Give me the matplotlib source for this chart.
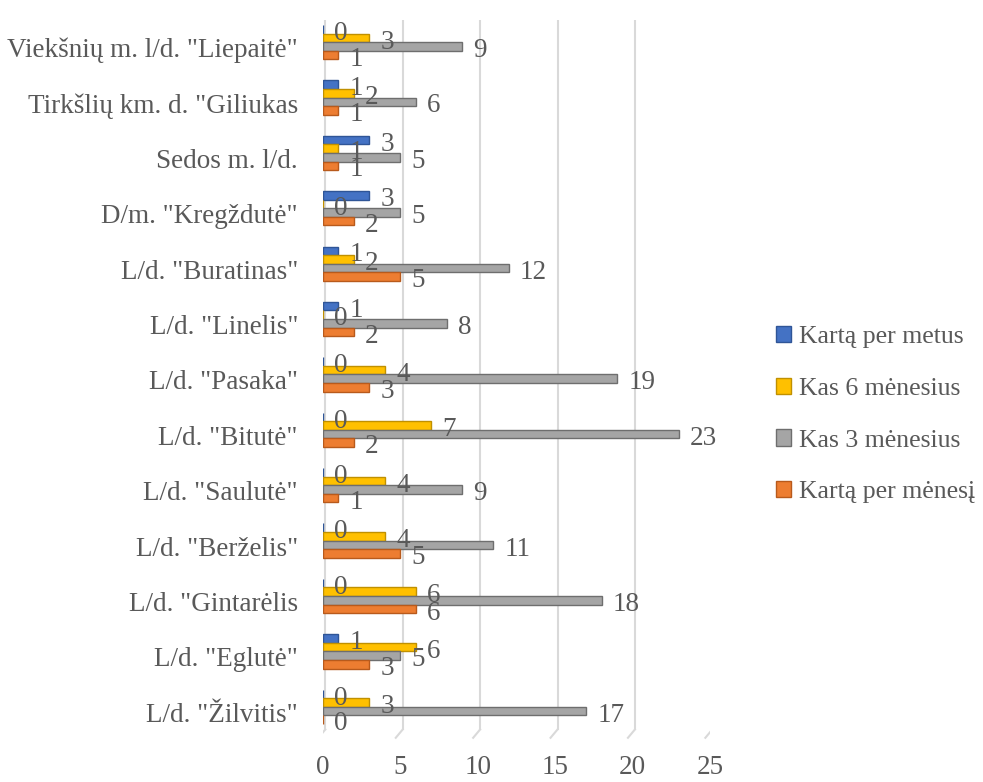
import matplotlib

matplotlib.use("Agg")
import matplotlib.pyplot as plt
import numpy as np

# categories listed top to bottom as in the chart
categories = [
    'Viekšnių m. l/d. "Liepaitė"',
    'Tirkšlių km. d. "Giliukas',
    'Sedos m. l/d.',
    'D/m. "Kregždutė"',
    'L/d. "Buratinas"',
    'L/d. "Linelis"',
    'L/d. "Pasaka"',
    'L/d. "Bitutė"',
    'L/d. "Saulutė"',
    'L/d. "Berželis"',
    'L/d. "Gintarėlis',
    'L/d. "Eglutė"',
    'L/d. "Žilvitis"',
]
karta_per_metus = [0, 1, 3, 3, 1, 1, 0, 0, 0, 0, 0, 1, 0]
kas_6_men = [3, 2, 1, 0, 2, 0, 4, 7, 4, 4, 6, 6, 3]
kas_3_men = [9, 6, 5, 5, 12, 8, 19, 23, 9, 11, 18, 5, 17]
karta_per_men = [1, 1, 1, 2, 5, 2, 3, 2, 1, 5, 6, 3, 0]

series = [
    ("Kartą per metus", karta_per_metus, "#4472C4", "#2F5597"),
    ("Kas 6 mėnesius", kas_6_men, "#FFC000", "#C09000"),
    ("Kas 3 mėnesius", kas_3_men, "#A5A5A5", "#6E6E6E"),
    ("Kartą per mėnesį", karta_per_men, "#ED7D31", "#B85A1C"),
]
xticks = [0, 5, 10, 15, 20, 25]

TXT = "#595959"
FS = 19.5
plt.rcParams["font.family"] = ["Liberation Serif", "DejaVu Serif"]

fig = plt.figure(figsize=(9.83, 7.82), dpi=100)
ax = fig.add_axes([323 / 983, 1 - 740 / 782, 387 / 983, 720 / 782])

n = len(categories)
y = np.arange(n)[::-1]
h = 0.155
shift = 0.1  # bars sit a little above the category label
offsets = [shift + 1.5 * h, shift + 0.5 * h, shift - 0.5 * h, shift - 1.5 * h]

for (label, vals, color, edge), off in zip(series, offsets):
    pos = y + off
    ax.barh(pos, vals, height=h, color=color, edgecolor=edge, linewidth=1.0,
            label=label, zorder=3)
    for yy, v in zip(pos, vals):
        ax.annotate(str(v), (v, yy), xytext=(8, -3), textcoords="offset points",
                    ha="left", va="center", fontsize=FS, color=TXT, zorder=4)

ax.set_xlim(0, 25)
ax.set_ylim(-0.5, n - 0.5)
ax.set_xticks(xticks)
ax.set_yticks(y)
ax.set_yticklabels(categories)
ax.tick_params(axis="both", length=0, labelsize=FS, colors=TXT)
ax.tick_params(axis="y", pad=18)
ax.tick_params(axis="x", pad=11)
for s in ax.spines.values():
    s.set_visible(False)

# gridlines with the slanted 3D floor at the bottom
for t in xticks:
    ax.plot([t + 0.15, t + 0.15], [n - 0.5, -0.31], color="#D9D9D9", lw=1.5, zorder=1)
    ax.plot([t + 0.15, t - 0.3], [-0.31, -0.46], color="#D9D9D9", lw=1.5, zorder=1)

leg = ax.legend(loc="center left", bbox_to_anchor=(1.11, 0.452), frameon=False,
                fontsize=18.5, handlelength=0.6, handleheight=0.6, handletextpad=0.3,
                labelspacing=1.15, labelcolor=TXT)

fig.savefig("out.png", dpi=100)
